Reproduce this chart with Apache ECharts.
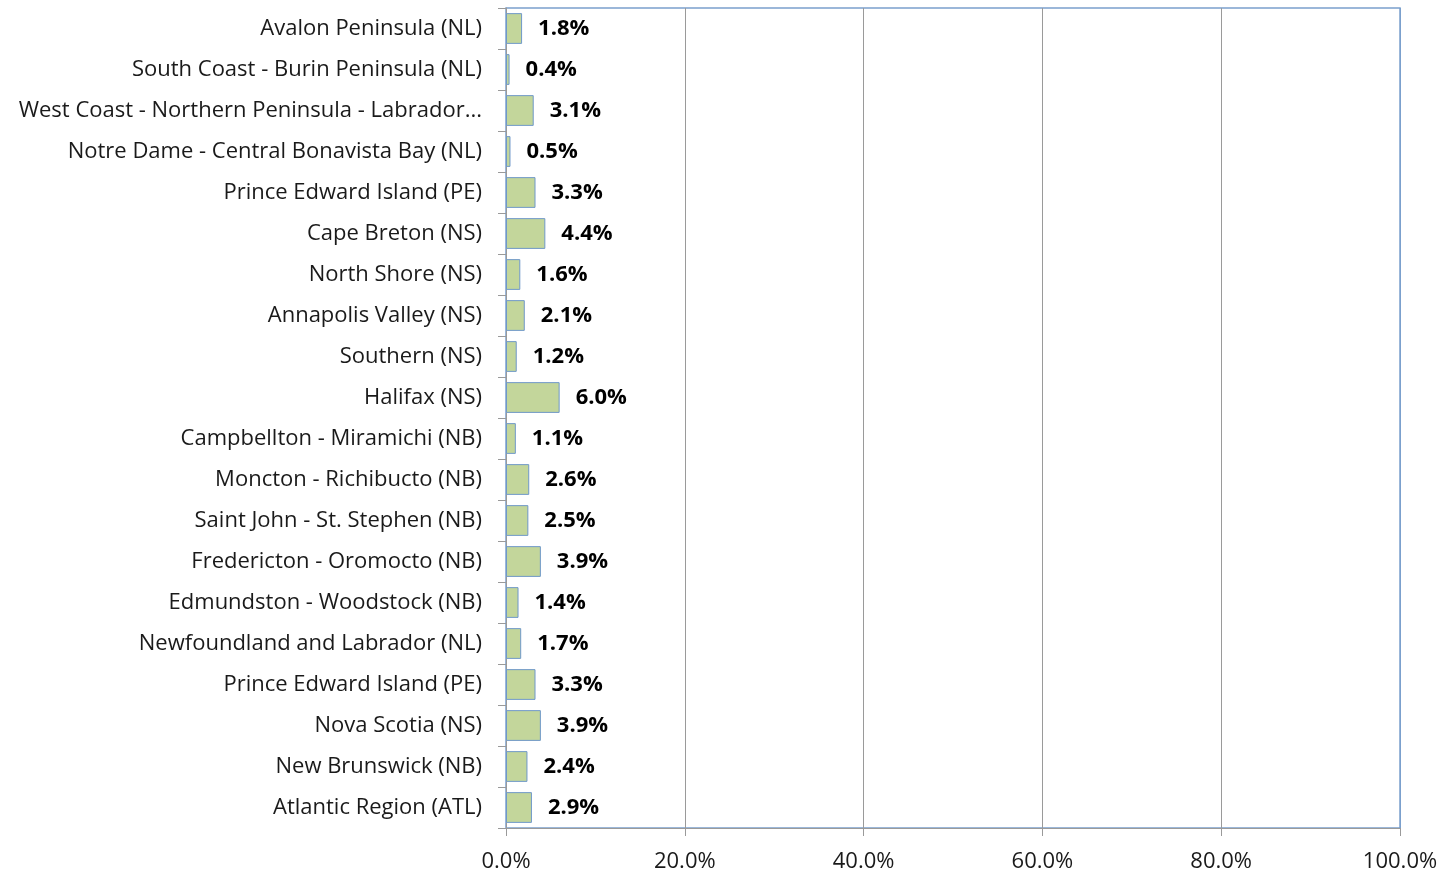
<!DOCTYPE html>
<html>
<head>
<meta charset="utf-8">
<script src="https://cdn.jsdelivr.net/npm/echarts@6/dist/echarts.min.js"></script>
<style>
html,body{margin:0;padding:0;background:#fff;}
#chart{width:1446px;height:875px;}
</style>
</head>
<body>
<div id="chart"></div>
<script>
// regions, top to bottom
const regions=[
  'Avalon Peninsula (NL)',
  'South Coast - Burin Peninsula (NL)',
  'West Coast - Northern Peninsula - Labrador...',
  'Notre Dame - Central Bonavista Bay (NL)',
  'Prince Edward Island (PE)',
  'Cape Breton (NS)',
  'North Shore (NS)',
  'Annapolis Valley (NS)',
  'Southern (NS)',
  'Halifax (NS)',
  'Campbellton - Miramichi (NB)',
  'Moncton - Richibucto (NB)',
  'Saint John - St. Stephen (NB)',
  'Fredericton - Oromocto (NB)',
  'Edmundston - Woodstock (NB)',
  'Newfoundland and Labrador (NL)',
  'Prince Edward Island (PE)',
  'Nova Scotia (NS)',
  'New Brunswick (NB)',
  'Atlantic Region (ATL)'
];
const shares=[1.8,0.4,3.1,0.5,3.3,4.4,1.6,2.1,1.2,6.0,1.1,2.6,2.5,3.9,1.4,1.7,3.3,3.9,2.4,2.9];
const xTicks=[0,20,40,60,80,100];

const FONT='"Open Sans", Lato, sans-serif';
const chart=echarts.init(document.getElementById('chart'),null,{renderer:'canvas'});
chart.setOption({
  animation:false,
  grid:{left:506,right:46,top:8,bottom:47,show:true,borderColor:'#7ba0cd',borderWidth:1.5},
  xAxis:{
    type:'value',min:xTicks[0],max:xTicks[xTicks.length-1],interval:20,
    axisLine:{show:true,lineStyle:{color:'#9a9a9a',width:1}},
    axisTick:{show:true,length:8,lineStyle:{color:'#9a9a9a'}},
    splitLine:{show:true,lineStyle:{color:['#9a9a9a','#9a9a9a','#9a9a9a','#9a9a9a','#9a9a9a','#7ba0cd'],width:1}},
    axisLabel:{formatter:v=>v.toFixed(1)+'%',color:'#1a1a1a',fontFamily:FONT,fontSize:22,margin:23}
  },
  yAxis:{
    type:'category',data:regions,inverse:true,
    axisLine:{show:true,lineStyle:{color:'#9a9a9a',width:1}},
    axisTick:{show:true,length:8,lineStyle:{color:'#9a9a9a'}},
    axisLabel:{color:'#1a1a1a',fontFamily:FONT,fontSize:22,margin:24,padding:[5,0,0,0]}
  },
  series:[{
    type:'bar',data:shares,barCategoryGap:'25%',
    itemStyle:{color:'#c3d69b',borderColor:'#6f98c9',borderWidth:1},
    label:{show:true,position:'right',distance:16,formatter:p=>p.value.toFixed(1)+'%',
      color:'#000',fontWeight:'bold',fontFamily:FONT,fontSize:22,padding:[5,0,0,0]}
  }]
});
</script>
</body>
</html>
